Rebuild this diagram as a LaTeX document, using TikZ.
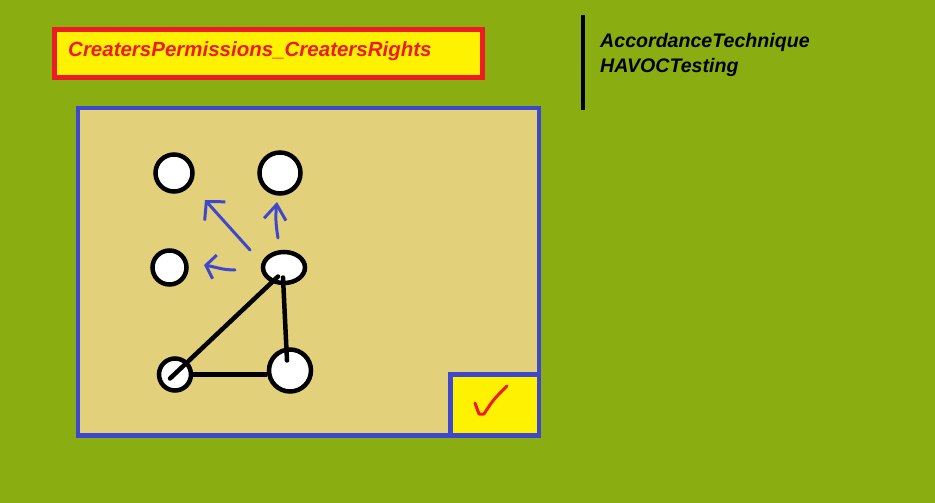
\documentclass[tikz,border=0pt]{standalone}
\usepackage{fontspec}
\setmainfont{Liberation Sans}
\usetikzlibrary{shapes.geometric,arrows.meta}
\definecolor{bggreen}{RGB}{138,174,18}
\definecolor{boxtan}{RGB}{227,208,123}
\definecolor{signyellow}{RGB}{255,242,0}
\definecolor{signred}{RGB}{237,28,36}
\definecolor{penblue}{RGB}{63,72,204}
\begin{document}
\begin{tikzpicture}[x=1pt,y=-1pt,
  dot/.style={circle,draw,line width=4.5pt,fill=white,inner sep=0pt},
  pen/.style={penblue,line width=3pt,line cap=round,line join=round},
  label/.style={inner sep=0pt,anchor=base west,font=\bfseries\itshape}]
  \fill[bggreen] (0,0) rectangle (935,503);
  \useasboundingbox (0,0) rectangle (935,503);
  % title sign
  \draw[signred,fill=signyellow,line width=5pt] (54.5,29.5) rectangle (482.5,77.5);
  \node[label,text=signred,font=\fontsize{20.5}{24}\selectfont\bfseries\itshape] (title) at (68,57) {CreatersPermissions\_CreatersRights};
  % side note
  \draw[line width=4.5pt] (583,15) -- (583,110);
  \node[label,font=\fontsize{19.6}{24}\selectfont\bfseries\itshape] (tech) at (600,48) {AccordanceTechnique};
  \node[label,font=\fontsize{19.6}{24}\selectfont\bfseries\itshape] (havoc) at (600,73) {HAVOCTesting};
  % board
  \draw[penblue,fill=boxtan,line width=4.5pt] (78,108) rectangle (539,435.5);
  \draw[penblue,fill=signyellow,line width=4.5pt] (450.5,374.5) rectangle (539,435.5);
  \draw[signred,line width=3pt,line cap=round,line join=round] (475,403) -- (479,414) -- (484,414) .. controls (493,400) .. (507,386);
  % graph
  \node[dot,minimum size=37pt] (tl) at (174,173) {};
  \node[dot,minimum size=41pt] (tr) at (280,173) {};
  \node[dot,minimum size=34pt] (ml) at (169.5,267.5) {};
  \node[ellipse,draw,line width=4.5pt,fill=white,inner sep=0pt,minimum width=42pt,minimum height=31pt] (mid) at (284,267.5) {};
  \node[dot,minimum size=32pt] (bl) at (175,374.5) {};
  \node[dot,minimum size=42pt] (br) at (290,370.5) {};
  \draw[line width=4.5pt,line cap=round] ([shift={(-6,9)}]mid.center) -- ([shift={(-5,4)}]bl.center);
  \draw[line width=4.5pt,line cap=round] ([shift={(-1,10)}]mid.center) -- ([shift={(-3,-10)}]br.center);
  \draw[line width=4.5pt] (bl.east) -- (br.west |- bl.east);
  % moves
  \coordinate (m1) at (250,250);
  \coordinate (m2) at (278,238);
  \coordinate (m3) at (235,270);
  \draw[pen,-{Straight Barb[length=13pt,width=28pt]}] (m1) -- (205,200);
  \draw[pen,-{Straight Barb[length=15pt,width=22pt]}] (m2) to[bend left=8] (277,202);
  \draw[pen,-{Straight Barb[length=9pt,width=24pt]}] (m3) to[out=180,in=-10] (204,265);
\end{tikzpicture}
\end{document}
